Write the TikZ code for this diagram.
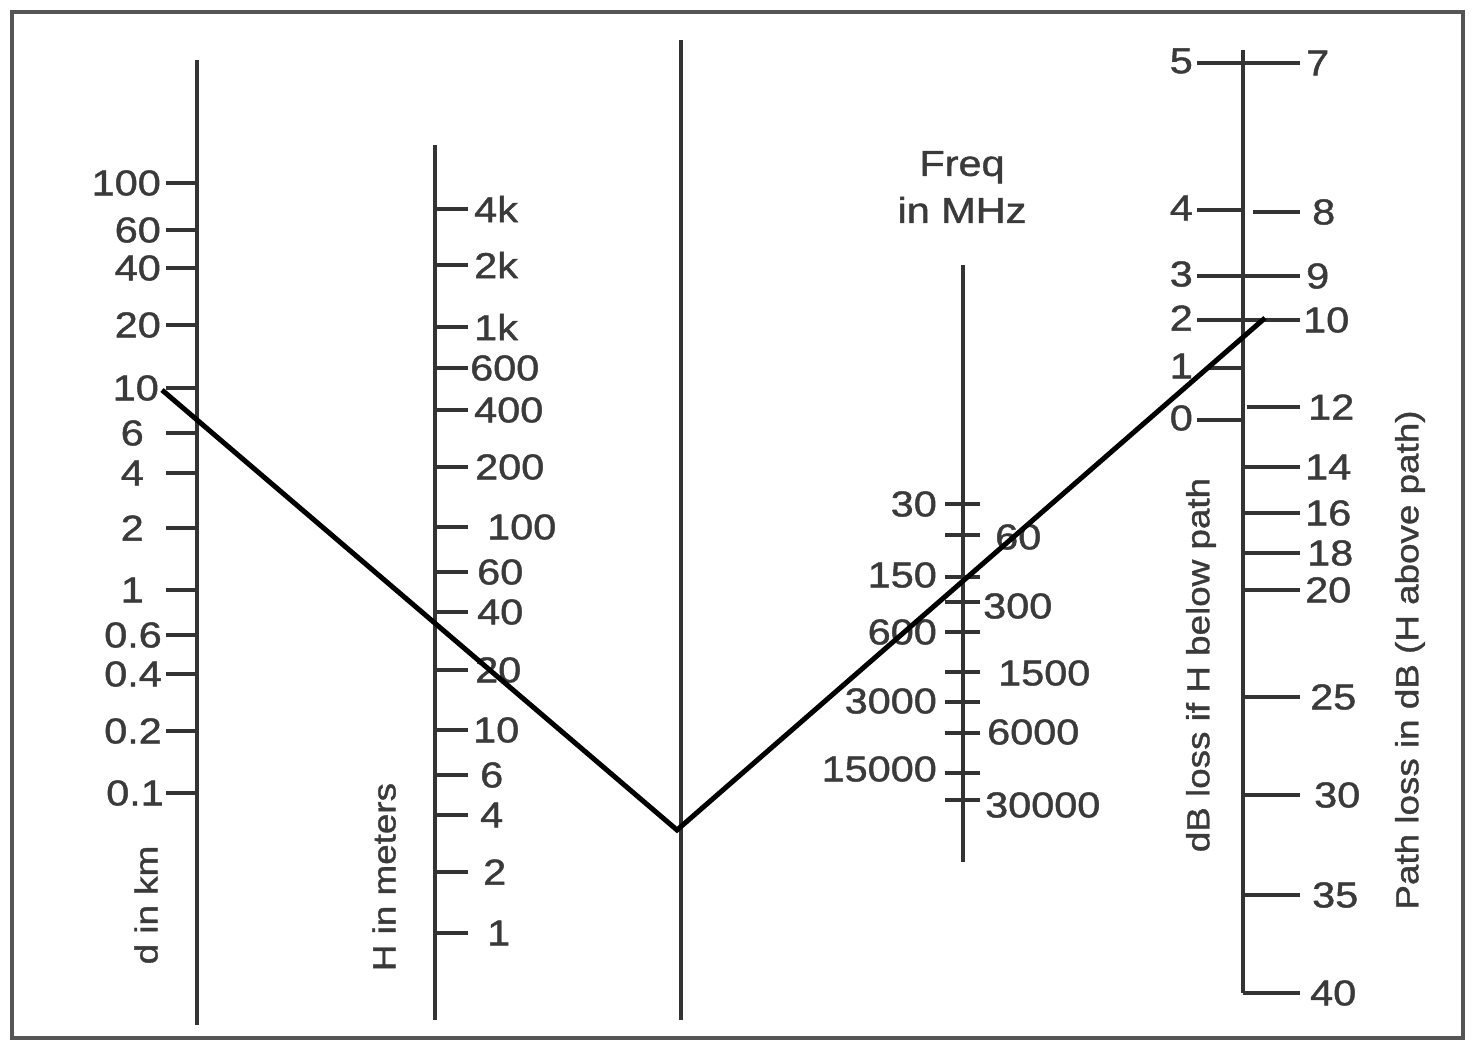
\documentclass[tikz,border=0pt]{standalone}
\usepackage{fontspec}
\setmainfont{Liberation Sans}[FakeStretch=1.15, FakeBold=1.2]
\definecolor{axisgray}{HTML}{333333}
\definecolor{textgray}{HTML}{3A3A3A}
\definecolor{framegray}{HTML}{555555}
\tikzset{
  axisline/.style={draw=axisgray, line width=4pt},
  tickline/.style={draw=axisgray, line width=3.5pt},
  num/.style={font=\fontsize{36}{40}\selectfont, text=textgray, inner sep=0pt},
  ttl/.style={font=\fontsize{32}{36}\selectfont, text=textgray, inner sep=0pt},
  conn/.style={line width=5pt, black, line join=miter},
  framebox/.style={draw=framegray, line width=4pt}
}
\begin{document}
\begin{tikzpicture}[x=1pt,y=-1pt]
\useasboundingbox (0,0) rectangle (1475,1052);
\fill[white] (0,0) rectangle (1475,1052);
\draw[framebox] (12,12) rectangle (1463,1038);

% ---- d axis ----
\draw[axisline] (197,60) -- (197,1025);
\foreach \y/\t/\g [count=\i] in {183/100/5, 230/60/5, 268/40/5, 325/20/5, 388/10/7, 433/6/22, 473/4/22, 528/2/22, 590/1/22, 635/0.6/4, 674/0.4/4, 731/0.2/4, 793/0.1/2}{
  \draw[tickline] (166,\y) -- (197,\y);
  \node[num, anchor=east] (dl\i) at (166-\g,\y) {\t};
}
\node[ttl, rotate=90] (dtitle) at (146,905) {d in km};

% ---- H axis ----
\draw[axisline] (435,145) -- (435,1020);
\foreach \y/\t/\x [count=\i] in {209/4k/474, 265/2k/474, 327/1k/474, 368/600/470, 410/400/474, 467/200/475, 527/100/487, 572/60/477, 612/40/477, 670/20/475, 730/10/473, 775/6/480, 815/4/480, 872/2/483, 933/1/487}{
  \draw[tickline] (435,\y) -- (468,\y);
  \node[num, anchor=west] (hl\i) at (\x,\y) {\t};
}
\node[ttl, rotate=90] (htitle) at (384,877) {H in meters};

% ---- middle line ----
\draw[axisline] (681,40) -- (681,1020);

% ---- Freq axis ----
\node[num, align=center, font=\fontsize{36}{47}\selectfont] (ftitle) at (962,187) {Freq\\in MHz};
\draw[axisline] (963,265) -- (963,862);
\foreach \y/\t/\ly [count=\i] in {504/30/504, 577/150/575, 632/600/632, 702/3000/701, 773/15000/769}{
  \draw[tickline] (945,\y) -- (980,\y);
  \node[num, anchor=east] (fl\i) at (937,\ly) {\t};
}
\foreach \y/\t/\ly/\x [count=\i] in {535/60/537/995, 602/300/606/983, 672/1500/673/998, 733/6000/732/987, 800/30000/805/985}{
  \draw[tickline] (945,\y) -- (980,\y);
  \node[num, anchor=west] (fr\i) at (\x,\ly) {\t};
}

% ---- right axis ----
\draw[axisline] (1243,50) -- (1243,993);
\foreach \y/\t/\s [count=\i] in {63/5/1197, 210/4/1197, 276/3/1197, 320/2/1197, 368/1/1207, 420/0/1197}{
  \draw[tickline] (\s,\y) -- (1243,\y);
  \node[num, anchor=east] (ll\i) at (1193,\y-2) {\t};
}
\foreach \y/\t/\s/\x [count=\i] in {63/7/1243/1306, 212/8/1253/1312, 276/9/1243/1306, 320/10/1243/1303, 407/12/1247/1308, 467/14/1243/1305, 513/16/1243/1305, 553/18/1243/1307, 590/20/1243/1305, 697/25/1243/1310, 795/30/1243/1314, 895/35/1243/1312, 993/40/1243/1310}{
  \draw[tickline] (\s,\y) -- (1300,\y);
  \node[num, anchor=west] (rl\i) at (\x,\y) {\t};
}
\node[ttl, rotate=90] (ltitle) at (1201,665) {dB loss if H below path};
\node[ttl, rotate=90] (rtitle) at (1410,660) {Path loss in dB (H above path)};

% ---- connector ----
\coordinate (pA) at (162,390);
\coordinate (pB) at (677,830);
\coordinate (pC) at (1265,318);
\draw[conn] (pA) -- (pB) -- (pC);
\end{tikzpicture}
\end{document}
